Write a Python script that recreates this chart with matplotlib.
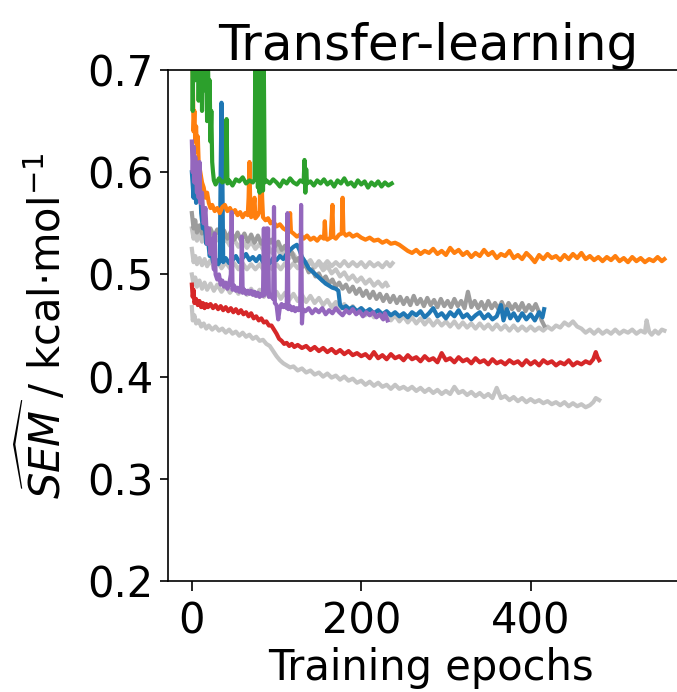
import matplotlib

matplotlib.use("Agg")
import matplotlib.pyplot as plt

# --- transfer-learning runs (coloured) -------------------------------------
blue_epoch = [0, 2, 3, 5, 7, 9, 11, 13, 15, 17, 19, 21, 23, 25, 28, 31, 33, 34, 35, 36, 37, 40, 44, 48, 52,
              56, 60, 64, 68, 72, 76, 80, 84, 88, 92, 96, 100, 104, 108, 112, 116, 120, 124, 127, 130,
              134, 138, 142, 146, 150, 154, 158, 162, 166, 170, 173, 175, 178, 182, 186, 190, 195, 200,
              205, 210, 215, 220, 225, 230, 235, 240, 245, 250, 255, 260, 265, 270, 275, 280, 285, 290,
              295, 300, 305, 310, 315, 320, 325, 330, 335, 340, 345, 350, 355, 360, 365, 368, 372, 376,
              380, 385, 390, 395, 400, 405, 410, 414, 416]
blue_sem = [0.600, 0.575, 0.600, 0.570, 0.585, 0.605, 0.560, 0.545, 0.550, 0.530, 0.535, 0.518, 0.522,
            0.512, 0.515, 0.510, 0.513, 0.600, 0.668, 0.600, 0.512, 0.516, 0.511, 0.514, 0.518, 0.512,
            0.516, 0.520, 0.514, 0.517, 0.513, 0.518, 0.512, 0.515, 0.511, 0.516, 0.514, 0.518, 0.515,
            0.520, 0.524, 0.527, 0.529, 0.524, 0.517, 0.512, 0.506, 0.503, 0.500, 0.497, 0.494, 0.491,
            0.489, 0.487, 0.486, 0.484, 0.470, 0.467, 0.469, 0.466, 0.468, 0.464, 0.467, 0.463, 0.466,
            0.462, 0.465, 0.461, 0.464, 0.460, 0.463, 0.459, 0.462, 0.458, 0.463, 0.460, 0.464, 0.458,
            0.462, 0.467, 0.459, 0.462, 0.457, 0.463, 0.459, 0.465, 0.458, 0.461, 0.456, 0.460, 0.463,
            0.457, 0.461, 0.456, 0.459, 0.470, 0.455, 0.466, 0.457, 0.462, 0.455, 0.462, 0.456, 0.461,
            0.455, 0.463, 0.458, 0.466]

orange_epoch = [0, 1, 2, 3, 4, 5, 6, 7, 8, 10, 12, 14, 16, 18, 20, 22, 24, 27, 30, 33, 36, 39, 42, 45,
                48, 51, 54, 57, 60, 63, 66, 67, 68, 69, 70, 72, 74, 75, 78, 80, 81, 82, 83, 84, 87, 90,
                93, 96, 100, 104, 108, 112, 115, 116, 117, 120, 124, 128, 132, 136, 140, 144, 148, 152,
                156, 157, 158, 160, 164, 166, 167, 170, 174, 177, 178, 179, 182, 186, 190, 195, 200, 205,
                210, 215, 220, 225, 230, 235, 240, 245, 250, 255, 260, 265, 270, 275, 280, 285, 290, 295,
                300, 305, 310, 315, 320, 325, 330, 335, 340, 345, 350, 355, 360, 365, 370, 375, 380, 385,
                390, 395, 400, 405, 410, 415, 420, 425, 430, 435, 440, 445, 450, 455, 460, 465, 470, 475,
                480, 485, 490, 495, 500, 505, 510, 515, 520, 525, 530, 535, 540, 545, 550, 555, 558]
orange_sem = [0.760, 0.700, 0.640, 0.660, 0.630, 0.645, 0.620, 0.635, 0.610, 0.600, 0.590, 0.585, 0.575,
              0.580, 0.570, 0.565, 0.568, 0.562, 0.565, 0.560, 0.566, 0.568, 0.562, 0.565, 0.560, 0.563,
              0.558, 0.561, 0.556, 0.560, 0.558, 0.575, 0.610, 0.565, 0.556, 0.560, 0.575, 0.555, 0.558,
              0.562, 0.595, 0.607, 0.575, 0.556, 0.553, 0.555, 0.550, 0.552, 0.547, 0.549, 0.545, 0.543,
              0.545, 0.560, 0.542, 0.540, 0.537, 0.539, 0.535, 0.538, 0.534, 0.536, 0.533, 0.537, 0.535,
              0.552, 0.536, 0.534, 0.536, 0.568, 0.537, 0.535, 0.539, 0.540, 0.575, 0.541, 0.538, 0.540,
              0.537, 0.539, 0.536, 0.534, 0.536, 0.533, 0.534, 0.531, 0.533, 0.530, 0.531, 0.529, 0.526,
              0.523, 0.521, 0.524, 0.520, 0.523, 0.521, 0.525, 0.520, 0.523, 0.519, 0.526, 0.521, 0.524,
              0.519, 0.522, 0.517, 0.521, 0.518, 0.524, 0.519, 0.522, 0.516, 0.520, 0.518, 0.523, 0.516,
              0.519, 0.515, 0.521, 0.517, 0.512, 0.519, 0.515, 0.520, 0.516, 0.518, 0.514, 0.519, 0.515,
              0.520, 0.516, 0.521, 0.515, 0.518, 0.514, 0.517, 0.513, 0.517, 0.514, 0.518, 0.513, 0.516,
              0.512, 0.517, 0.513, 0.516, 0.512, 0.515, 0.513, 0.517, 0.513, 0.515]

green_epoch = [0, 1, 2, 3, 4, 5, 6, 7, 8, 9, 10, 11, 12, 13, 14, 15, 16, 17, 18, 19, 20, 21, 22, 23, 24,
               25, 26, 28, 32, 36, 40, 41, 42, 44, 48, 52, 56, 60, 64, 68, 72, 74, 75, 76, 77, 78, 79,
               80, 81, 82, 83, 84, 85, 86, 88, 92, 96, 100, 104, 108, 112, 116, 120, 124, 128, 132, 133,
               134, 135, 136, 140, 144, 148, 152, 156, 160, 164, 168, 172, 176, 180, 184, 188, 192, 196,
               200, 204, 208, 212, 216, 220, 224, 228, 232, 236]
green_sem = [0.780, 0.660, 0.740, 0.820, 0.690, 0.760, 0.710, 0.790, 0.670, 0.750, 0.700, 0.770, 0.660,
             0.730, 0.690, 0.750, 0.680, 0.720, 0.650, 0.710, 0.660, 0.690, 0.630, 0.660, 0.610, 0.600,
             0.592, 0.588, 0.594, 0.590, 0.592, 0.652, 0.589, 0.592, 0.587, 0.593, 0.591, 0.595, 0.589,
             0.592, 0.590, 0.593, 0.720, 0.600, 0.750, 0.585, 0.740, 0.580, 0.760, 0.590, 0.730, 0.582,
             0.700, 0.590, 0.592, 0.589, 0.593, 0.590, 0.586, 0.592, 0.589, 0.594, 0.590, 0.588, 0.592,
             0.590, 0.612, 0.580, 0.603, 0.589, 0.591, 0.587, 0.592, 0.589, 0.593, 0.588, 0.591, 0.586,
             0.592, 0.589, 0.594, 0.588, 0.590, 0.586, 0.592, 0.588, 0.591, 0.585, 0.590, 0.587, 0.591,
             0.586, 0.590, 0.587, 0.589]

red_epoch = [0, 1, 2, 3, 5, 7, 9, 11, 13, 15, 17, 19, 22, 25, 28, 31, 34, 37, 40, 43, 46, 49, 52, 55, 58,
             61, 64, 67, 70, 73, 76, 79, 82, 85, 88, 91, 94, 97, 100, 103, 106, 109, 112, 115, 118, 121,
             125, 130, 135, 140, 145, 150, 155, 160, 165, 170, 175, 180, 185, 190, 195, 200, 205, 210,
             215, 220, 225, 230, 235, 240, 245, 250, 255, 260, 265, 270, 275, 280, 285, 290, 295, 300,
             305, 310, 315, 320, 325, 330, 335, 340, 345, 350, 355, 360, 365, 370, 375, 380, 385, 390,
             395, 400, 405, 410, 415, 420, 425, 430, 435, 440, 445, 450, 455, 460, 465, 470, 474, 477,
             479, 481]
red_sem = [0.490, 0.478, 0.485, 0.472, 0.476, 0.470, 0.474, 0.468, 0.472, 0.467, 0.471, 0.468, 0.471,
           0.467, 0.470, 0.466, 0.469, 0.465, 0.468, 0.464, 0.467, 0.463, 0.466, 0.462, 0.465, 0.461, 0.463,
           0.459, 0.462, 0.457, 0.459, 0.455, 0.457, 0.453, 0.454, 0.450, 0.450, 0.446, 0.442, 0.437, 0.435,
           0.432, 0.433, 0.430, 0.432, 0.429, 0.431, 0.428, 0.430, 0.426, 0.429, 0.425, 0.428, 0.424, 0.427,
           0.423, 0.426, 0.422, 0.425, 0.421, 0.423, 0.420, 0.422, 0.418, 0.424, 0.418, 0.421, 0.417, 0.422,
           0.418, 0.420, 0.416, 0.421, 0.417, 0.419, 0.415, 0.420, 0.416, 0.418, 0.414, 0.423, 0.416, 0.418,
           0.414, 0.419, 0.415, 0.417, 0.413, 0.418, 0.414, 0.416, 0.412, 0.417, 0.413, 0.415, 0.412, 0.416,
           0.413, 0.415, 0.411, 0.416, 0.412, 0.415, 0.411, 0.416, 0.413, 0.415, 0.411, 0.414, 0.412, 0.416,
           0.411, 0.414, 0.412, 0.415, 0.413, 0.417, 0.424, 0.419, 0.416]

purple_epoch = [0, 1, 2, 3, 4, 5, 6, 7, 8, 9, 10, 12, 14, 16, 18, 20, 22, 24, 26, 27, 28, 30, 32, 34, 36,
                38, 40, 42, 44, 46, 47, 48, 50, 52, 54, 56, 58, 59, 60, 62, 64, 66, 68, 70, 72, 74, 76,
                78, 80, 82, 84, 85, 86, 88, 89, 90, 91, 93, 96, 97, 98, 100, 102, 104, 106, 108, 110,
                112, 113, 114, 116, 118, 120, 122, 124, 126, 128, 129, 130, 131, 134, 138, 142, 146, 150,
                154, 158, 162, 166, 170, 174, 178, 182, 186, 190, 194, 198, 202, 206, 210, 214, 218, 222,
                226, 228, 231]
purple_sem = [0.630, 0.600, 0.625, 0.590, 0.615, 0.600, 0.580, 0.605, 0.575, 0.610, 0.570, 0.580, 0.550,
              0.565, 0.530, 0.545, 0.520, 0.535, 0.505, 0.540, 0.500, 0.495, 0.500, 0.490, 0.494, 0.488,
              0.492, 0.486, 0.490, 0.500, 0.561, 0.485, 0.489, 0.484, 0.487, 0.483, 0.486, 0.537, 0.482,
              0.485, 0.481, 0.484, 0.481, 0.484, 0.480, 0.483, 0.479, 0.482, 0.478, 0.481, 0.479, 0.545,
              0.480, 0.545, 0.500, 0.545, 0.478, 0.480, 0.476, 0.566, 0.472, 0.470, 0.456, 0.468, 0.471,
              0.468, 0.470, 0.467, 0.560, 0.466, 0.469, 0.465, 0.468, 0.464, 0.467, 0.465, 0.468, 0.568,
              0.452, 0.466, 0.464, 0.467, 0.462, 0.466, 0.463, 0.467, 0.461, 0.465, 0.462, 0.467, 0.463,
              0.460, 0.465, 0.462, 0.466, 0.461, 0.464, 0.459, 0.463, 0.460, 0.463, 0.458, 0.461, 0.456,
              0.462, 0.455]

# --- reference runs (grey) ---------------------------------------------------
grey_a_epoch = [0, 2, 4, 6, 9, 12, 15, 18, 22, 26, 30, 35, 40, 45, 50, 55, 60, 65, 70, 75, 80, 85, 90,
                95, 100, 105, 110, 115, 120, 125, 130, 135, 140, 145, 150, 155, 160, 165, 170, 175, 180,
                185, 190, 195, 200, 205, 210, 215, 220, 225, 230, 234, 237]
grey_a_sem = [0.525, 0.512, 0.518, 0.510, 0.516, 0.509, 0.515, 0.508, 0.514, 0.507, 0.513, 0.506, 0.512,
              0.506, 0.511, 0.505, 0.511, 0.505, 0.510, 0.505, 0.510, 0.504, 0.510, 0.505, 0.510, 0.505,
              0.511, 0.506, 0.511, 0.506, 0.512, 0.507, 0.512, 0.507, 0.513, 0.508, 0.513, 0.508, 0.512,
              0.508, 0.513, 0.508, 0.512, 0.508, 0.512, 0.507, 0.512, 0.508, 0.511, 0.507, 0.512, 0.508,
              0.511]

grey_b_epoch = [0, 2, 4, 6, 9, 12, 15, 18, 22, 26, 30, 34, 38, 42, 46, 50, 54, 58, 62, 66, 70, 74, 78,
                82, 86, 90, 94, 98, 102, 106, 110, 114, 118, 122, 126, 130, 134, 138, 142, 146, 150, 154,
                158, 162, 166, 170, 174, 178, 182, 186, 190, 194, 198, 202, 206, 210, 214, 218, 222, 226,
                230, 234, 238, 242, 246, 250, 254, 258, 262, 266, 270, 274, 278, 282, 286, 290, 294, 298,
                302, 306, 310, 314, 318, 322, 326, 330, 334, 338, 342, 346, 350, 354, 358, 362, 366, 370,
                374, 378, 382, 386, 390, 394, 398, 402, 406, 410, 413, 416]
grey_b_sem = [0.560, 0.545, 0.553, 0.541, 0.548, 0.540, 0.546, 0.538, 0.545, 0.537, 0.544, 0.536, 0.543,
              0.535, 0.542, 0.534, 0.541, 0.533, 0.540, 0.532, 0.539, 0.531, 0.538, 0.530, 0.536, 0.529,
              0.534, 0.527, 0.532, 0.524, 0.528, 0.519, 0.522, 0.513, 0.516, 0.507, 0.510, 0.502, 0.505,
              0.498, 0.501, 0.494, 0.498, 0.491, 0.495, 0.488, 0.492, 0.486, 0.490, 0.483, 0.488, 0.481,
              0.486, 0.479, 0.484, 0.477, 0.483, 0.476, 0.481, 0.474, 0.480, 0.473, 0.479, 0.472, 0.478,
              0.471, 0.477, 0.470, 0.479, 0.471, 0.476, 0.469, 0.477, 0.470, 0.475, 0.468, 0.476, 0.469,
              0.474, 0.468, 0.476, 0.469, 0.474, 0.467, 0.483, 0.468, 0.474, 0.467, 0.473, 0.466, 0.474,
              0.467, 0.472, 0.466, 0.473, 0.465, 0.472, 0.466, 0.471, 0.465, 0.472, 0.464, 0.470, 0.465,
              0.471, 0.463, 0.455, 0.450]

grey_c_epoch = [0, 2, 4, 6, 9, 12, 15, 18, 22, 26, 30, 35, 40, 45, 50, 55, 60, 65, 70, 75, 80, 85, 90,
                95, 100, 105, 110, 115, 120, 125, 130, 135, 140, 145, 150, 155, 160, 165, 170, 175, 180,
                185, 190, 195, 200, 205, 210, 215, 220, 225, 230, 235, 240, 245, 250, 255, 260, 265, 270,
                275, 280, 285, 290, 295, 300, 305, 310, 315, 320, 325, 330, 335, 340, 345, 350, 355, 360,
                365, 370, 375, 380, 385, 390, 395, 400, 405, 410, 415, 420, 425, 430, 435, 440, 445, 450,
                455, 460, 465, 470, 475, 480, 485, 490, 495, 500, 505, 510, 515, 520, 525, 530, 535, 537,
                540, 543, 547, 551, 555, 558]
grey_c_sem = [0.500, 0.490, 0.497, 0.488, 0.494, 0.486, 0.492, 0.485, 0.491, 0.484, 0.490, 0.483, 0.489,
              0.482, 0.488, 0.481, 0.487, 0.480, 0.486, 0.479, 0.485, 0.478, 0.484, 0.477, 0.483, 0.476,
              0.482, 0.475, 0.481, 0.474, 0.480, 0.473, 0.479, 0.472, 0.477, 0.470, 0.475, 0.468, 0.473,
              0.466, 0.471, 0.464, 0.469, 0.462, 0.467, 0.460, 0.465, 0.458, 0.463, 0.457, 0.461, 0.455,
              0.460, 0.454, 0.459, 0.453, 0.458, 0.452, 0.457, 0.451, 0.456, 0.450, 0.455, 0.450, 0.454,
              0.449, 0.454, 0.448, 0.453, 0.448, 0.452, 0.447, 0.452, 0.447, 0.451, 0.446, 0.451, 0.446,
              0.450, 0.445, 0.450, 0.445, 0.449, 0.445, 0.449, 0.445, 0.448, 0.445, 0.449, 0.446, 0.450,
              0.448, 0.453, 0.450, 0.454, 0.449, 0.447, 0.443, 0.446, 0.442, 0.446, 0.442, 0.445, 0.442,
              0.446, 0.442, 0.445, 0.443, 0.446, 0.442, 0.445, 0.443, 0.455, 0.444, 0.441, 0.445, 0.442,
              0.446, 0.445]

grey_d_epoch = [0, 2, 4, 6, 9, 12, 15, 18, 22, 26, 30, 35, 40, 45, 50, 55, 60, 65, 70, 75, 80, 85, 90,
                95, 100, 105, 110, 115, 120, 125, 130, 135, 140, 145, 150, 155, 160, 165, 170, 175, 180,
                185, 190, 195, 200, 205, 210, 215, 220, 225, 229, 231]
grey_d_sem = [0.545, 0.535, 0.542, 0.533, 0.540, 0.532, 0.538, 0.531, 0.537, 0.530, 0.536, 0.529, 0.535,
              0.528, 0.534, 0.527, 0.533, 0.526, 0.532, 0.525, 0.530, 0.523, 0.528, 0.521, 0.526, 0.519,
              0.523, 0.516, 0.520, 0.513, 0.517, 0.510, 0.514, 0.507, 0.511, 0.504, 0.508, 0.501, 0.505,
              0.498, 0.502, 0.495, 0.499, 0.493, 0.497, 0.491, 0.495, 0.489, 0.493, 0.488, 0.492, 0.489]

grey_e_epoch = [0, 1, 3, 5, 8, 11, 14, 17, 20, 24, 28, 32, 36, 40, 44, 48, 52, 56, 60, 64, 68, 72, 76, 80,
                84, 88, 92, 96, 100, 104, 108, 112, 116, 120, 125, 130, 135, 140, 145, 150, 155, 160, 165,
                170, 175, 180, 185, 190, 195, 200, 205, 210, 215, 220, 225, 230, 235, 240, 245, 250, 255,
                260, 265, 270, 275, 280, 285, 290, 295, 300, 305, 310, 315, 320, 325, 330, 335, 340, 345,
                350, 355, 360, 365, 370, 375, 380, 385, 390, 395, 400, 405, 410, 415, 420, 425, 430, 435,
                440, 445, 450, 455, 460, 465, 470, 474, 477, 481]
grey_e_sem = [0.468, 0.455, 0.460, 0.452, 0.455, 0.449, 0.452, 0.447, 0.450, 0.446, 0.449, 0.445, 0.447,
              0.443, 0.446, 0.442, 0.444, 0.440, 0.443, 0.439, 0.441, 0.437, 0.439, 0.435, 0.436, 0.432,
              0.430, 0.425, 0.420, 0.416, 0.413, 0.411, 0.409, 0.410, 0.406, 0.408, 0.404, 0.406, 0.402,
              0.404, 0.400, 0.403, 0.399, 0.401, 0.397, 0.400, 0.396, 0.398, 0.394, 0.396, 0.392, 0.395,
              0.391, 0.394, 0.390, 0.392, 0.388, 0.392, 0.388, 0.390, 0.387, 0.390, 0.386, 0.389, 0.385,
              0.388, 0.384, 0.387, 0.383, 0.386, 0.383, 0.390, 0.384, 0.386, 0.382, 0.385, 0.381, 0.384,
              0.380, 0.383, 0.379, 0.389, 0.379, 0.381, 0.377, 0.380, 0.376, 0.379, 0.375, 0.378, 0.375,
              0.377, 0.374, 0.376, 0.373, 0.375, 0.372, 0.375, 0.371, 0.374, 0.371, 0.373, 0.370, 0.372,
              0.375, 0.379, 0.377]

GREYS = [
    (grey_c_epoch, grey_c_sem, "#c4c4c4"),
    (grey_d_epoch, grey_d_sem, "#c4c4c4"),
    (grey_a_epoch, grey_a_sem, "#c4c4c4"),
    (grey_e_epoch, grey_e_sem, "#c4c4c4"),
    (grey_b_epoch, grey_b_sem, "#9c9c9c"),
]
RUNS = [
    (blue_epoch, blue_sem, "tab:blue"),
    (orange_epoch, orange_sem, "tab:orange"),
    (green_epoch, green_sem, "tab:green"),
    (red_epoch, red_sem, "tab:red"),
    (purple_epoch, purple_sem, "tab:purple"),
]

fig = plt.figure(figsize=(6.77, 6.92), dpi=100)
ax = fig.add_axes([0.248, 0.1604, 0.7784, 0.7384])  # right edge runs off the canvas, as in the source

for ep, sem, col in GREYS:
    ax.plot(ep, sem, color=col, lw=3.0)
for ep, sem, col in RUNS:
    ax.plot(ep, sem, color=col, lw=3.0)

ax.set_xlim(-28.3, 594)
ax.set_ylim(0.2, 0.7)
ax.set_xticks([0, 200, 400])
ax.set_yticks([0.2, 0.3, 0.4, 0.5, 0.6, 0.7])
ax.tick_params(labelsize=30, width=1.2)
ax.tick_params(axis="x", length=7, pad=7)
ax.tick_params(axis="y", length=6, pad=4.5)
for s in ax.spines.values():
    s.set_linewidth(1.2)
ax.set_xlabel("Training epochs", fontsize=30, labelpad=3)
ax.set_ylabel(r"$\widehat{SEM}$ / kcal$\cdot$mol$^{-1}$", fontsize=30, labelpad=12)
ax.set_title("Transfer-learning", fontsize=36, x=0.495)

fig.savefig("out.png", dpi=100)
